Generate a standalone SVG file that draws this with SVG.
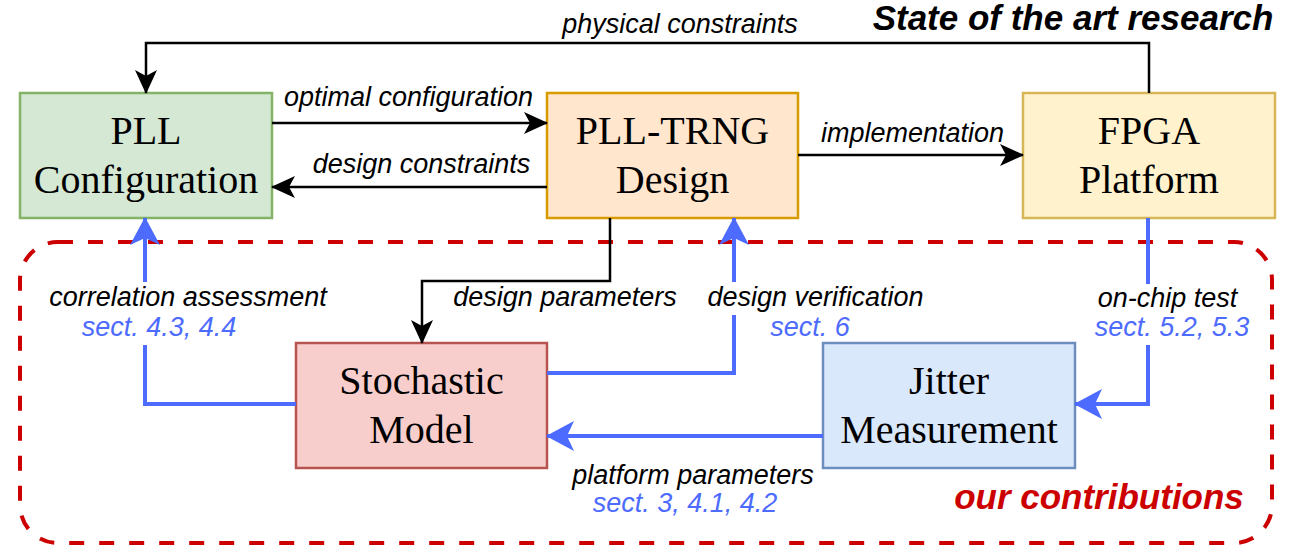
<svg xmlns="http://www.w3.org/2000/svg" width="1294" height="560" viewBox="0 0 1294 560">
<defs>
<style>
.box{stroke-width:2.5}
.node text{font-family:"Liberation Serif","Times New Roman",serif;font-size:40px;fill:#000;text-anchor:middle}
.lbl{font-family:"Liberation Sans",Arial,sans-serif;font-style:italic;font-size:27px;fill:#000;text-anchor:middle}
.sect{font-family:"Liberation Sans",Arial,sans-serif;font-style:italic;font-size:27px;fill:#4d6bfe;text-anchor:middle}
.big{font-family:"Liberation Sans",Arial,sans-serif;font-style:italic;font-weight:bold;font-size:35px;text-anchor:middle}
.blk{fill:none;stroke:#000;stroke-width:2.5;marker-end:url(#ab)}
.blu{fill:none;stroke:#4d6bfe;stroke-width:4;marker-end:url(#au)}
</style>
<marker id="ab" markerUnits="userSpaceOnUse" markerWidth="24" markerHeight="22" refX="23" refY="11" orient="auto" viewBox="0 0 24 22">
<path d="M0,0 L24,11 L0,22 L6,11 Z" fill="#000"/>
</marker>
<marker id="au" markerUnits="userSpaceOnUse" markerWidth="28" markerHeight="30" refX="27" refY="15" orient="auto" viewBox="0 0 28 30">
<path d="M0,0 L28,15 L0,30 L7,15 Z" fill="#4d6bfe"/>
</marker>
</defs>
<rect width="1294" height="560" fill="#fff"/>

<g id="contrib-area">
<rect x="20" y="242" width="1252" height="301" rx="38" ry="38" fill="none" stroke="#cc0000" stroke-width="4" stroke-dasharray="15 15"/>
<text class="big" x="1099" y="509" fill="#cc0000">our contributions</text>
</g>
<text class="big" x="1073" y="30" fill="#000">State of the art research</text>

<g id="pll-config" class="node">
<rect class="box" x="20" y="93" width="252" height="125" fill="#d5e8d4" stroke="#82b366"/>
<text x="146" y="143.5">PLL</text>
<text x="146" y="192.5">Configuration</text>
</g>
<g id="pll-trng-design" class="node">
<rect class="box" x="547" y="93" width="251" height="125" fill="#ffe6cc" stroke="#d79b00"/>
<text x="672.5" y="143.5">PLL-TRNG</text>
<text x="672.5" y="192.5">Design</text>
</g>
<g id="fpga-platform" class="node">
<rect class="box" x="1023" y="93" width="252" height="125" fill="#fff2cc" stroke="#d6b656"/>
<text x="1149" y="143.5">FPGA</text>
<text x="1149" y="192.5">Platform</text>
</g>
<g id="stochastic-model" class="node">
<rect class="box" x="296" y="343" width="251" height="125" fill="#f8cecc" stroke="#b85450"/>
<text x="421.5" y="393.5">Stochastic</text>
<text x="421.5" y="442.5">Model</text>
</g>
<g id="jitter-measurement" class="node">
<rect class="box" x="823" y="343" width="252" height="125" fill="#dae8fc" stroke="#6c8ebf"/>
<text x="949" y="393.5">Jitter</text>
<text x="949" y="442.5">Measurement</text>
</g>

<g id="connectors">
<path class="blk" d="M1149,93 V43 H146 V93"/>
<text class="lbl" x="680" y="33">physical constraints</text>
<path class="blk" d="M272,123 H547"/>
<text class="lbl" x="408.5" y="106">optimal configuration</text>
<path class="blk" d="M547,187 H272"/>
<text class="lbl" x="421.5" y="172.5">design constraints</text>
<path class="blk" d="M798,155 H1023"/>
<text class="lbl" x="912.5" y="141.5">implementation</text>
<path class="blk" d="M610,218 V281 H422 V343"/>
<text class="lbl" x="565" y="305.5">design parameters</text>

<path class="blu" d="M296,404 H145 V345 M145,282 V218"/>
<text class="lbl" x="188" y="306">correlation assessment</text>
<text class="sect" x="159" y="336">sect. 4.3, 4.4</text>

<path class="blu" d="M547,373 H734 V315 M734,282 V218"/>
<text class="lbl" x="815.5" y="305.5">design verification</text>
<text class="sect" x="810" y="336">sect. 6</text>

<path class="blu" d="M1148,218 V284 M1148,345 V404 H1075"/>
<text class="lbl" x="1167.5" y="307">on-chip test</text>
<text class="sect" x="1172" y="336">sect. 5.2, 5.3</text>

<path class="blu" d="M823,436 H547"/>
<text class="lbl" x="693" y="484">platform parameters</text>
<text class="sect" x="685" y="512">sect. 3, 4.1, 4.2</text>
</g>
</svg>
